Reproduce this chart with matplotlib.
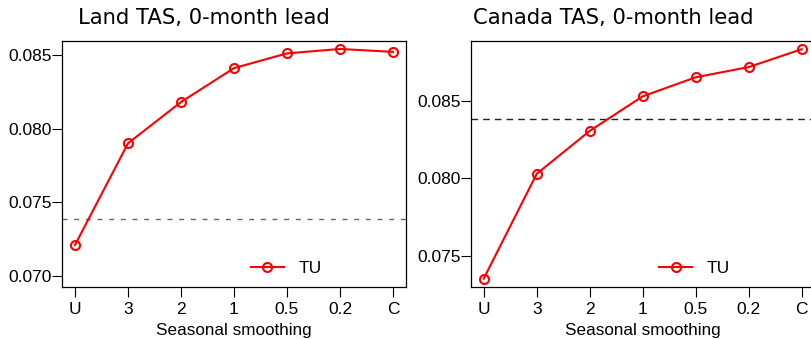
import matplotlib
matplotlib.use("Agg")
import matplotlib.pyplot as plt

# smoothing levels (U = unsmoothed, C = climatology)
smoothing = ["U", "3", "2", "1", "0.5", "0.2", "C"]

land_tu = [0.0721, 0.0790, 0.0818, 0.0841, 0.0851, 0.0854, 0.0852]
land_ref = 0.07387
canada_tu = [0.07354, 0.0803, 0.08307, 0.0853, 0.08653, 0.08719, 0.08834]
canada_ref = 0.08386

titles = ["Land TAS, 0-month lead", "Canada TAS, 0-month lead"]

plt.rcParams["font.family"] = ["Liberation Sans", "DejaVu Sans"]

fig = plt.figure(figsize=(8.11, 3.39), dpi=100)
W, H = 811, 339


def panel(left_px, series, ref, ylim, yticks, title, title_x, ref_color,
          ref_dashes):
    ax = fig.add_axes([left_px / W, 1 - 287.3 / H, 343.4 / W, 246.6 / H])
    x = range(len(smoothing))
    ax.axhline(ref, color=ref_color, lw=1.0, dashes=ref_dashes)
    ax.plot(x, series, "-o", color="red", lw=1.5, ms=6.5, mfc="none",
            mew=1.5, label="TU")
    ax.set_xlim(-0.24, 6.24)
    ax.set_ylim(*ylim)
    ax.set_xticks(list(x))
    ax.set_xticklabels(smoothing)
    ax.set_yticks(yticks)
    ax.set_yticklabels([f"{v:.3f}" for v in yticks])
    ax.tick_params(length=7.5, width=0.8, labelsize=12.5)
    ax.tick_params(axis="y", pad=0)
    ax.tick_params(axis="x", pad=3)
    for s in ax.spines.values():
        s.set_linewidth(0.9)
    ax.set_xlabel("Seasonal smoothing", fontsize=12.3, labelpad=4.5)
    ax.legend(loc="lower left", bbox_to_anchor=(0.528, 0.017), frameon=False,
              fontsize=12.5, handlelength=1.9, handletextpad=0.85,
              borderaxespad=0)
    fig.text(title_x / W, 1 - 18 / H, title, fontsize=15.2,
             family="DejaVu Sans", va="center", ha="left")
    return ax


panel(62.3, land_tu, land_ref, (0.06923, 0.08596),
      [0.070, 0.075, 0.080, 0.085], titles[0], 78, "#666666", (3.6, 4.8))
panel(471.0, canada_tu, canada_ref, (0.07298, 0.08889),
      [0.075, 0.080, 0.085], titles[1], 473, "#222222", (4.8, 3.6))

fig.savefig("out.png", dpi=100)
